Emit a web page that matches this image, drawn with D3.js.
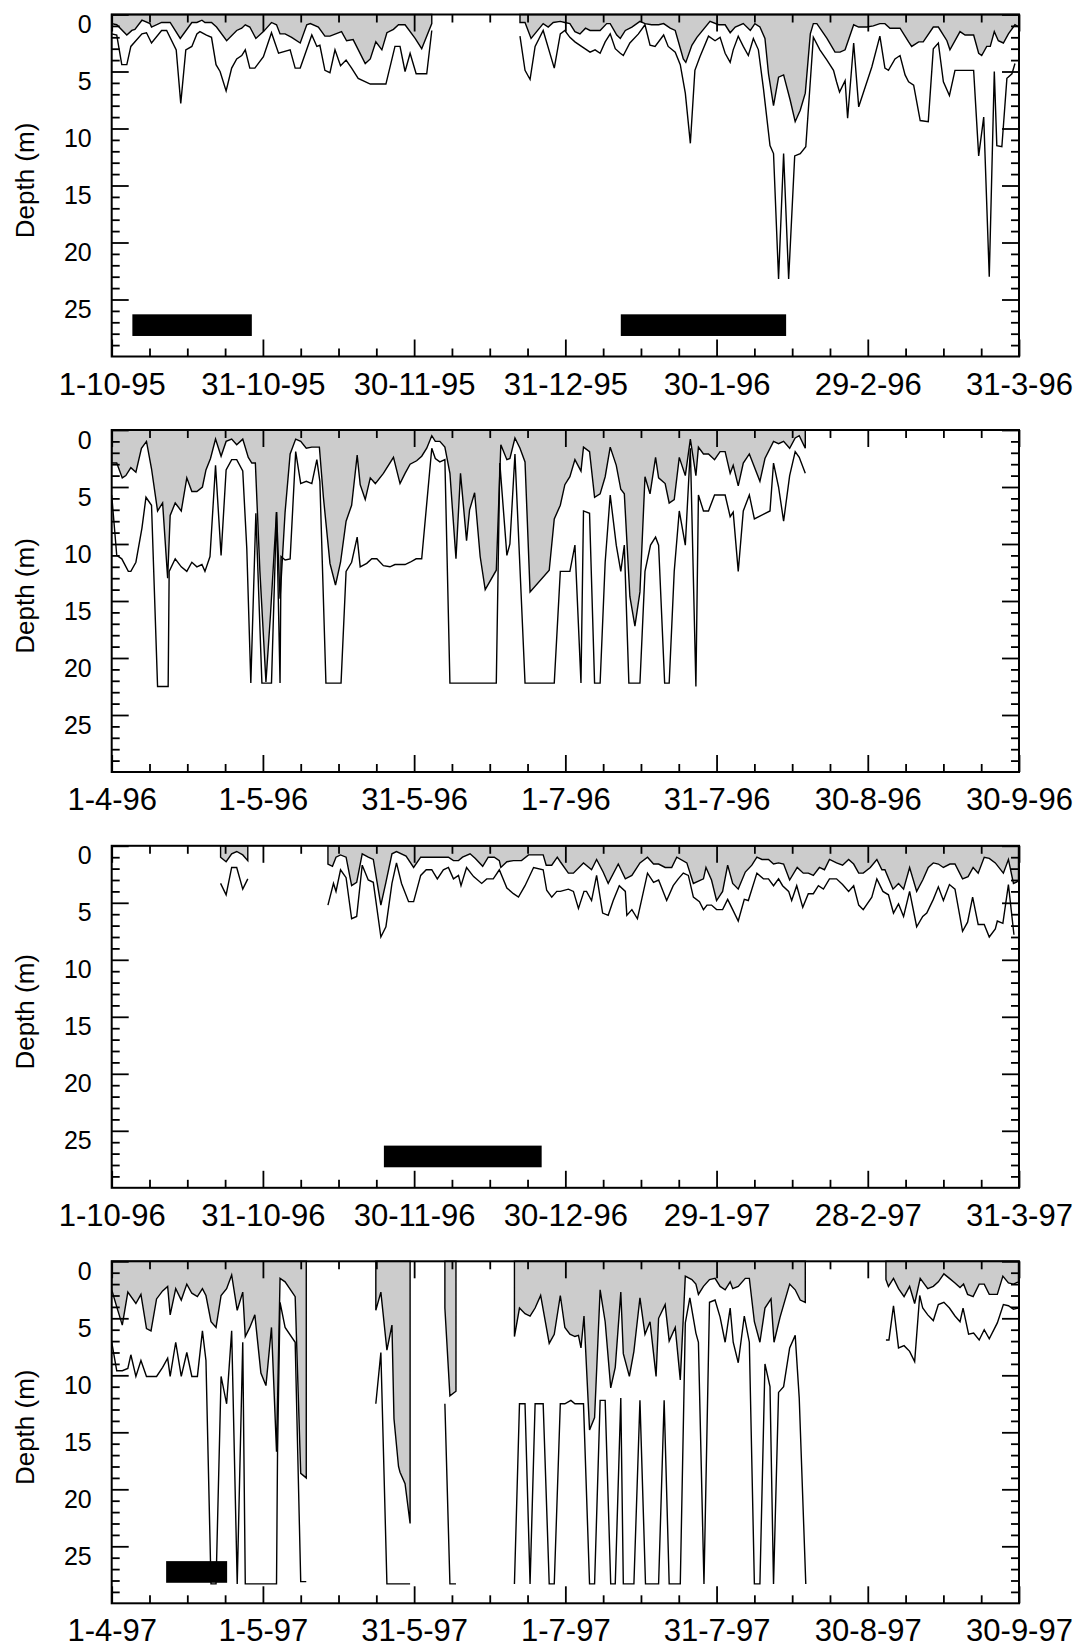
<!DOCTYPE html>
<html>
<head>
    <meta charset="utf-8">
    <title>Depth records 1995-1997</title>
    <script src="https://cdnjs.cloudflare.com/ajax/libs/d3/7.8.5/d3.min.js"></script>
    <style>
        body { margin: 0; background: #fff; }
        text { font-family: "Liberation Sans", Arial, sans-serif; fill: #000; }
    </style>
</head>
<body>
<div id="chart"></div>

<script type="text/javascript">
    // x = days from the first tick of each panel, y = depth (m); null = no data
    var xTickLabels = [
        ["1-10-95", "31-10-95", "30-11-95", "31-12-95", "30-1-96", "29-2-96", "31-3-96"],
        ["1-4-96", "1-5-96", "31-5-96", "1-7-96", "31-7-96", "30-8-96", "30-9-96"],
        ["1-10-96", "31-10-96", "30-11-96", "30-12-96", "29-1-97", "28-2-97", "31-3-97"],
        ["1-4-97", "1-5-97", "31-5-97", "1-7-97", "31-7-97", "30-8-97", "30-9-97"]
    ];
    var yTickValues = [0, 5, 10, 15, 20, 25];
    var barDepth = [26.3, 28.2];

    //black bars (start day, end day)
    var p1Bars = [[4.1, 27.8], [101.0, 133.8]];
    var p2Bars = [];
    var p3Bars = [[54.0, 85.3]];
    var p4Bars = [[10.8, 22.9]];

    //shallow series (shaded above)
    var p1Upper = [[0,0.8],[1,0.9],[3,1.8],[4,1.4],[4.6,1.3],[6,0.5],[7.6,0.8],[7.9,1.1],[9.9,0.7],[11.6,0.7],[13.6,2.1],[15.9,0.7],[16.9,0.7],[17.9,0.5],[18.5,0.7],[19.8,0.7],[20.8,1.1],[22.8,2.3],[24.8,1.4],[25.8,1.2],[26.5,0.9],[27.4,1.1],[28.6,2.1],[30.1,1.5],[31.7,0.7],[32.7,0.9],[33.4,1.7],[34.4,1.7],[35.7,2.0],[37.4,2.5],[38.7,0.9],[39.4,0.8],[41,1.1],[42.3,1.9],[43.3,1.9],[45.6,1.5],[46.6,2.3],[47.9,2.2],[50.3,4.3],[51.3,3.9],[52.4,2.4],[53.6,3.1],[54.6,1.6],[55.9,1.3],[56.9,0.9],[58.2,0.9],[60.2,2.1],[61.5,3.0],[63.5,0.8],
        null,
        [81,0.7],[82,0.7],[83.2,2.1],[85.6,0.8],[86.6,1.1],[87.6,0.7],[89,0.6],[89.9,0.7],[90.9,0.8],[91.9,1.5],[92.9,1.7],[94,1.2],[94.9,1.4],[96.9,1.4],[98.2,0.8],[98.9,0.8],[100.2,1.8],[100.9,2.1],[101.9,1.4],[103.2,1.1],[104.8,0.6],[105.8,0.8],[107.1,0.9],[108.5,0.9],[109.5,0.8],[110.8,1.2],[111.8,1.4],[113.4,3.9],[113.9,4.2],[115.1,2.7],[116.1,2.0],[118.7,0.6],[120.4,0.9],[121.7,0.9],[122.7,1.6],[123.7,1.1],[125.3,0.8],[126.7,1.4],[127.6,0.8],[128.6,1.1],[129.6,2.1],[130.3,5.2],[131.3,8.0],[132.3,5.5],[133.3,5.3],[134.6,7.5],[135.6,9.4],[136.6,8.4],[137.6,6.9],[138.6,1.7],[139.2,0.8],[139.9,0.8],[141.9,2.1],[143.5,3.3],[144.5,3.3],[145.5,3.1],[147.2,0.9],[148.2,1.1],[149.8,1.1],[151.1,1.0],[152.4,0.8],[153.4,0.8],[154.4,1.2],[156.4,1.2],[158.1,2.4],[158.7,2.8],[160.1,2.4],[161,2.4],[163,1.1],[164,1.1],[165.7,2.3],[166.3,3.1],[168.3,1.5],[169.3,1.8],[171,1.8],[172,3.4],[172.6,3.6],[173.6,2.8],[174.3,2.8],[175.1,1.5],[175.9,2.3],[176.9,2.5],[177.9,1.7],[179.2,0.9],[180,1.1]];

    var p2Upper = [[0,2.9],[1,2.9],[2.1,4.2],[2.8,4.0],[3.8,3.3],[4.8,3.7],[5.9,1.6],[6.9,1.0],[7.9,3.4],[9.1,7.1],[10.1,6.4],[11.1,13.0],[11.6,7.5],[12.6,6.4],[13.8,7.1],[14.9,4.2],[15.9,5.4],[16.9,5.4],[18,5.0],[18.7,3.5],[19.6,2.5],[20.6,0.8],[21.7,2.3],[22.7,1.0],[23.8,0.8],[24.8,1.3],[26,0.8],[27.1,2.4],[27.8,2.9],[28.5,2.9],[29.4,12.4],[30.6,22.1],[31.5,16.2],[32.7,7.2],[33.4,14.8],[34.4,7.2],[35.4,2.1],[36.5,0.8],[37.5,1.0],[38.6,1.6],[39.7,1.5],[41.2,1.5],[42,5.9],[43.3,11.7],[44.4,13.6],[45.4,11.6],[46.5,8.0],[47.6,6.6],[48.7,2.2],[49.3,4.8],[50.3,6.1],[51.3,4.2],[52.3,4.7],[53.9,3.8],[55.9,2.4],[57.2,4.7],[58.2,3.8],[59.2,3.0],[60.5,2.7],[61.5,2.3],[62.5,1.6],[63.5,0.5],[64.2,1.0],[65.1,1.0],[66.1,1.5],[67.1,3.8],[68.3,11.3],[69.2,3.8],[70.4,9.7],[71,7.0],[72,5.5],[73.1,11.1],[74.1,14.0],[76.3,12.3],[77.2,1.3],[78.4,2.6],[79,2.5],[80,0.7],[81,1.6],[82,2.8],[83,14.2],[86.8,12.3],[87.8,7.8],[89,6.6],[89.9,4.8],[90.9,4.1],[91.9,2.6],[93.1,3.6],[93.6,1.5],[94.8,1.9],[95.8,5.9],[96.9,5.6],[97.9,4.1],[98.9,1.5],[100.1,3.1],[101,5.2],[101.7,5.6],[102.8,14.6],[103.8,17.2],[104.8,14.2],[105.8,4.1],[106.8,5.6],[107.9,2.4],[108.5,4.2],[109.8,4.7],[110.6,6.4],[111.6,6.1],[112.6,2.4],[113.8,4.0],[114.8,0.8],[115.9,4.0],[116.4,1.5],[117.4,2.1],[118.4,2.1],[119.6,2.6],[120.7,1.9],[121.7,1.9],[122.7,3.8],[123.3,3.1],[124.3,4.9],[125.3,2.9],[126.5,2.1],[128.6,4.5],[129.6,2.5],[131.3,1.0],[132.3,1.2],[133.3,1.0],[134.5,1.6],[135.6,0.7],[136.4,0.5],[137.6,1.6]];

    var p3Upper = [[21.6,1.0],[22.7,1.4],[23.8,0.7],[24.8,0.5],[26,0.8],[27,1.3],
        null,
        [42.9,1.6],[43.8,1.8],[44.5,1.0],[45.4,0.8],[46.5,1.0],[47.6,3.5],[48.6,3.2],[49.7,0.7],[50.9,1.0],[51.9,1.2],[53.4,5.2],[54.4,3.2],[55.6,0.7],[56.5,0.5],[58.4,0.9],[59.9,1.9],[61.3,1.0],[66.8,1.0],[67.8,1.3],[68.8,1.3],[69.6,1.0],[71.1,0.7],[72.1,1.1],[73.6,1.8],[74.7,1.0],[75.9,1.0],[76.9,1.3],[77.2,1.9],[78.4,1.4],[79.7,1.3],[81.3,1.3],[82.7,0.8],[85.6,0.8],[86.2,1.7],[87.3,1.7],[88.4,1.0],[89,1.4],[90.6,2.4],[91.6,2.4],[93.6,1.5],[95.2,2.1],[96.2,1.2],[97.5,2.3],[98.5,3.3],[100.5,1.6],[101.9,2.9],[103.2,2.6],[104.8,1.5],[106.3,1.0],[107.5,1.6],[108.5,1.6],[109.8,1.9],[111.1,1.9],[112.1,1.0],[114.1,1.5],[115.4,3.3],[117.4,2.9],[117.9,1.9],[119,3.0],[120,4.8],[121.2,4.0],[122.2,1.7],[123.2,3.3],[124.3,3.8],[125.7,2.3],[127,1.7],[128,1.0],[129,1.2],[130.3,1.2],[131.3,1.6],[132.3,1.5],[133.3,1.6],[134.5,3.0],[136,1.9],[137.2,2.4],[138.2,2.4],[139.2,2.6],[140.4,1.9],[141.4,2.1],[142.4,1.2],[143.8,1.5],[145,1.7],[146.2,1.2],[147.2,1.6],[148.2,2.4],[149.1,2.4],[150.5,1.9],[151.8,1.2],[152.8,2.1],[153.4,2.1],[155,3.8],[156.1,3.3],[157.1,3.8],[158.3,1.9],[159.7,4.0],[160.9,3.0],[162,1.9],[163,1.5],[164,1.6],[165,1.9],[166.3,1.6],[167.3,1.6],[168.8,2.9],[169.9,2.7],[170.9,1.9],[171.9,2.4],[173.1,1.0],[174.1,1.1],[175.3,1.5],[176.9,2.4],[177.9,1.2],[178.9,3.3],[179.9,3.1]];

    var p4Upper = [[0,2.5],[1,4.0],[2.1,5.6],[3.2,2.7],[4.8,3.7],[5.8,2.9],[6.9,5.9],[7.8,6.1],[8.9,3.3],[10.1,2.6],[11.1,2.2],[11.6,4.7],[12.7,2.4],[13.8,3.4],[14.9,2.0],[15.9,2.8],[17,3.1],[18,2.4],[18.7,3.0],[19.7,5.3],[20.7,5.8],[21.7,3.0],[22.8,2.4],[23.8,1.2],[24.9,4.3],[26,2.7],[26.5,6.6],[27.4,5.8],[28.4,4.7],[29.6,9.8],[30.6,10.9],[31.7,5.8],[32.7,16.7],[33.4,1.5],[34.4,1.8],[36.4,3.1],[37.5,18.6],[38.6,19.0],
        null,
        [52.4,4.3],[53.4,2.7],[54.6,7.8],[55.6,5.6],[56,13.8],[56.9,18.0],[57.2,18.5],[58.2,19.5],[59.2,23.0],
        null,
        [66.1,4.1],[67.1,11.8],[68.3,11.4],
        null,
        [79.9,6.6],[80.9,4.1],[82,4.6],[83,4.8],[84,4.1],[85.1,3.0],[86.8,7.2],[87.8,6.4],[89,3.0],[89.9,5.8],[90.9,6.4],[91.9,6.6],[92.6,6.5],[93.1,7.6],[93.7,4.8],[94.8,14.8],[95.8,13.7],[96.9,2.5],[97.9,5.3],[99,11.1],[99.9,9.3],[101,2.7],[101.5,8.1],[102.7,10.1],[103.6,7.9],[104.8,3.2],[105.8,6.4],[106.8,5.3],[108,10.1],[108.5,5.0],[109.8,3.8],[110.6,7.0],[111.8,5.8],[112.8,10.4],[113.8,1.3],[115.1,1.6],[115.9,2.0],[116.4,2.9],[117.4,2.2],[118.6,1.6],[119.7,1.5],[120.7,2.2],[121.7,2.5],[122.7,1.8],[123.2,2.4],[124.3,2.2],[125.7,1.5],[126.5,1.5],[127.5,5.3],[128.6,7.1],[129.6,4.1],[130.8,3.3],[131.4,7.1],[132.6,4.9],[134.5,2.0],[135.6,2.5],[136.6,3.4],[137.6,3.6],
        null,
        [153.6,1.6],[154.1,2.2],[155.1,1.5],[156.1,2.4],[157.2,3.1],[158.3,2.2],[159.3,3.7],[160.4,1.5],[161.9,2.4],[163,2.2],[164,1.8],[165.1,1.1],[166.2,1.5],[167.3,1.9],[168.3,2.3],[169,2.0],[169.8,2.9],[170.9,3.1],[172.1,2.0],[173.1,2.0],[174.1,2.9],[175.7,2.9],[176.8,1.3],[177.9,1.9],[178.9,2.0],[179.9,1.8]];

    //deeper series (plain line)
    var p1Lower = [[0,1.7],[1,1.8],[2,4.4],[3,4.4],[3.8,2.8],[6,1.7],[6.9,1.6],[7.9,2.5],[9.9,1.4],[10.9,1.4],[12.8,3.1],[13.7,7.8],[14.7,3.1],[15.9,2.8],[16.9,1.7],[17.5,1.5],[18.8,1.8],[19.8,2.0],[20.7,4.4],[21.5,5.0],[22.7,6.7],[23.8,4.7],[24.8,3.9],[25.8,3.6],[26.5,3.1],[27.4,4.7],[28.4,4.7],[30.1,3.7],[31.7,1.6],[33.1,3.4],[35.4,3.1],[36.4,4.7],[37.4,4.7],[39.7,1.8],[40.7,2.8],[41.3,2.7],[42.3,4.9],[43.3,5.1],[44.3,3.1],[45.4,4.5],[46.5,4.0],[47.6,4.7],[48.9,5.6],[51.3,6.1],[54.4,6.1],[56.2,2.8],[57.2,2.8],[58.2,5.0],[59.2,3.4],[60.4,5.2],[62.5,5.2],[63.5,1.4],
        null,
        [81,1.9],[82,4.9],[83,5.7],[84,2.8],[85.6,1.4],[87.8,4.7],[89,1.7],[89.9,1.4],[90.9,2.0],[91.9,2.4],[93.2,2.8],[94.9,3.3],[95.9,3.1],[96.9,3.4],[97.9,2.4],[98.9,1.7],[99.9,3.0],[100.9,3.4],[101.5,3.6],[102.8,2.5],[104.5,1.7],[105.8,0.9],[106.8,2.7],[107.8,2.8],[109.5,1.8],[110.4,2.8],[111.8,3.3],[112.8,4.4],[113.8,6.9],[114.8,11.3],[115.7,4.9],[116.7,3.7],[118.4,1.9],[119.7,2.3],[120.7,2.0],[121.7,3.4],[122.7,4.2],[123.3,3.1],[124.3,1.9],[125.3,2.8],[126.3,3.6],[127.3,2.1],[128.3,3.1],[129.3,6.5],[130.6,11.5],[131.3,12.2],[132.3,23.2],[133.3,12.2],[134.3,23.2],[135.5,12.4],[136.6,12.2],[137.7,11.6],[139.2,2.0],[140.5,3.1],[141.9,4.0],[143.2,4.9],[143.8,5.9],[144.4,6.8],[145.5,5.8],[146,9.1],[147.2,2.5],[148.2,8.1],[150.8,4.6],[152.4,1.9],[153.4,4.7],[154.1,4.9],[155.4,3.9],[156.4,3.6],[157.4,5.3],[158.1,5.9],[159.1,6.2],[160.4,9.3],[162,9.4],[163,3.0],[164,2.5],[165,5.9],[166.2,7.1],[167.3,4.9],[171,4.9],[172,12.4],[173,9.0],[174.1,23.0],[175.1,5.0],[175.6,11.5],[176.6,11.6],[177.6,5.6],[178.6,5.2],[179.2,4.3]];

    var p2Lower = [[0,5.7],[1,11.0],[2,11.3],[3.3,12.4],[3.8,12.4],[4.8,11.6],[6,8.6],[6.8,5.9],[7.9,6.6],[9.1,22.5],[11.2,22.5],[11.4,12.4],[12.6,11.3],[13.8,12.0],[14.9,12.4],[15.9,11.6],[16.9,12.0],[17.9,11.8],[18.5,12.4],[19.5,11.1],[20.6,3.1],[21.7,11.0],[22.7,3.5],[23.8,2.6],[24.8,2.6],[26,3.6],[26.8,10.4],[27.6,22.2],[28.6,7.3],[29.8,22.2],[31.7,22.2],[32.7,7.2],[33.4,22.2],[33.6,11.1],[34.4,11.4],[35.4,11.3],[36.5,1.9],[37.5,4.7],[38.6,4.5],[39.7,4.7],[40.7,2.6],[41.3,4.5],[42.5,22.2],[45.5,22.2],[46.5,12.4],[47.6,11.6],[48.7,9.4],[49.3,12.0],[50.6,11.7],[51.6,11.3],[52.6,11.3],[53.9,11.9],[55.2,12.0],[56.2,11.8],[58.2,11.8],[59.2,11.6],[60.4,11.3],[61.5,11.3],[63.5,1.6],[64.2,2.5],[65.1,2.8],[66.1,2.6],[67.1,22.2],[76.3,22.2],[77,2.9],[78.4,11.0],[79,10.0],[80,2.1],[82,22.2],[87.8,22.2],[89,12.4],[90.9,12.4],[91.9,10.1],[93.1,22.2],[93.6,7.1],[94.8,7.3],[95.8,22.2],[96.9,22.2],[97.9,11.6],[98.9,5.7],[100.1,10.1],[101,12.4],[101.7,10.1],[102.6,22.2],[104.8,22.2],[105.8,12.4],[106.9,10.1],[107.9,9.4],[108.5,10.1],[109.7,22.2],[110.6,22.2],[111.6,12.4],[112.6,7.1],[113.8,10.1],[114.8,1.6],[115.9,22.5],[116.4,5.7],[117.4,7.1],[118.4,7.1],[119.6,5.7],[121.7,5.7],[122.7,7.6],[123.3,7.2],[124.3,12.4],[125.3,7.1],[126.5,5.7],[127.5,7.8],[130.6,7.1],[131.3,2.9],[132.3,5.0],[133.3,8.0],[134.5,4.0],[135.6,1.9],[136.4,2.4],[137.6,3.8]];

    var p3Lower = [[21.6,3.3],[22.7,4.3],[23.8,1.9],[24.8,1.9],[26,3.8],[27,2.9],
        null,
        [42.9,5.2],[44,3.3],[44.5,4.0],[45.4,2.1],[46.5,2.8],[47.6,6.4],[48.6,6.2],[49.7,1.7],[50.9,3.0],[51.9,3.2],[53.4,8.0],[54.4,7.1],[55.6,3.3],[56.5,1.5],[57.5,3.3],[58.9,4.9],[59.9,4.9],[61.3,2.6],[62.4,2.1],[63.5,2.1],[64.6,2.9],[65.8,2.1],[66.8,1.9],[67.8,2.9],[68.8,2.6],[69.3,3.5],[70.4,1.9],[71.8,2.7],[73.4,3.3],[74.4,2.9],[75.7,2.9],[76.9,2.1],[78.4,3.7],[79.7,4.2],[80.7,4.5],[82,3.5],[83.7,1.9],[85.6,2.1],[86.3,3.9],[87.3,4.5],[88.3,4.0],[89,4.0],[90.6,3.8],[91.6,4.0],[92.6,5.5],[93.7,4.0],[94.2,4.0],[95.2,4.8],[96.2,2.6],[97.4,5.9],[98.5,6.1],[99.5,4.8],[100.7,3.5],[101.9,4.0],[102.2,6.1],[103.2,5.6],[104.3,6.4],[106.3,2.4],[107.5,3.2],[108.5,3.0],[110.1,4.8],[111.4,3.5],[112.4,2.9],[113.4,2.4],[114.4,2.6],[115.4,4.5],[116.6,4.9],[117.4,5.6],[118.1,5.2],[119,5.2],[120,5.6],[121.2,5.6],[122.2,4.7],[123.2,5.6],[124.3,6.6],[125.5,4.7],[126.3,4.8],[128,2.4],[129.3,2.9],[130.3,2.9],[131.3,3.5],[132.3,2.9],[133.1,3.5],[134.3,4.0],[134.9,4.8],[135.9,3.5],[137.1,5.4],[138.2,4.2],[139.2,4.2],[140.2,3.5],[141.2,3.8],[142.4,2.9],[143.8,2.9],[145,3.4],[146.2,4.0],[147.2,3.5],[148.2,5.2],[149.1,5.6],[150.8,4.5],[151.8,2.9],[153,4.0],[154.1,4.3],[155.1,5.9],[156.1,5.1],[157.1,6.2],[158.3,4.0],[159.7,7.1],[160.9,6.2],[161.7,5.9],[163,4.7],[164,3.6],[165,4.8],[166.2,3.4],[167.3,3.8],[168.8,7.5],[169.8,6.7],[170.8,4.5],[171.9,6.9],[173.1,6.9],[174.1,8.0],[175.3,7.3],[175.7,6.6],[176.8,6.8],[177.9,3.4],[179,7.8]];

    var p4Lower = [[0,7.1],[1,9.6],[2.1,9.6],[3.2,9.4],[3.8,8.2],[4.8,10.1],[5.8,8.7],[6.9,10.1],[8.9,10.1],[10.1,9.3],[11.1,8.5],[11.6,10.1],[12.7,7.1],[13.8,10.1],[14.9,8.0],[15.9,10.1],[17,10.1],[18,6.1],[18.7,8.7],[19.7,28.3],[20.7,28.3],[21.7,10.1],[22.8,12.5],[23.8,6.1],[24.9,28.3],[26,7.1],[26.5,28.3],[32.7,28.3],[32.9,16.7],[33.4,3.6],[34.4,5.8],[36.4,7.1],[37.5,28.1],[38.6,28.1],
        null,
        [52.4,12.5],[53.4,8.0],[54.6,28.3],[59.2,28.3],
        null,
        [66.1,12.5],[67.1,28.3],[68.3,28.3],
        null,
        [79.9,28.3],[80.9,12.5],[82,12.5],[83,28.3],[84,12.5],[85.6,12.5],[86.8,28.3],[87.8,28.3],[89,12.5],[89.9,12.5],[91.1,12.2],[91.9,12.5],[93.6,12.5],[94.8,28.3],[95.8,28.3],[96.9,12.2],[97.9,12.2],[99,28.3],[99.9,28.3],[101,12.0],[101.5,28.3],[103.6,28.3],[104.8,12.2],[105.9,28.3],[108.5,28.3],[109.6,12.2],[110.6,28.3],[112.8,28.3],[113.8,5.4],[114.7,3.2],[115.9,6.3],[116.4,7.1],[117.5,28.3],[118.6,3.6],[119.7,3.4],[120.7,4.9],[121.7,7.1],[122.7,4.1],[123.3,7.1],[124.3,8.9],[125.5,4.8],[126.5,7.1],[127.5,28.3],[128.6,28.3],[129.6,9.0],[130.6,11.0],[131.3,28.3],[132.3,11.5],[133.3,11.0],[134.5,7.6],[135.6,6.5],[136.4,12.0],[137.7,28.3],
        null,
        [153.6,6.9],[154.2,6.9],[155.1,3.9],[156.1,7.6],[157.2,7.4],[158.3,7.9],[159.3,8.8],[160.3,3.0],[160.9,4.1],[161.9,4.7],[163,5.2],[164,3.8],[165.1,3.6],[166.2,4.1],[167.3,4.8],[168.3,5.3],[168.9,4.1],[170,6.4],[171,6.3],[172.1,6.9],[173.1,6.0],[174.1,6.8],[175.7,5.4],[176.9,3.8],[177.9,3.9],[178.9,4.2],[179.9,4.1]];

    var panels = [
        {upper: p1Upper, lower: p1Lower, bars: p1Bars, labels: xTickLabels[0]},
        {upper: p2Upper, lower: p2Lower, bars: p2Bars, labels: xTickLabels[1]},
        {upper: p3Upper, lower: p3Lower, bars: p3Bars, labels: xTickLabels[2]},
        {upper: p4Upper, lower: p4Lower, bars: p4Bars, labels: xTickLabels[3]}
    ];

    var width = 1078,
        height = 1647;

    var svg = d3.select("#chart").append("svg")
        .attr("width", width)
        .attr("height", height);

    var left = 111.7, right = 1019, panelH = 342;
    var tops = [14.5, 430, 845.8, 1261.3];

    var x = d3.scaleLinear().domain([0, 180]).range([left, right]);

    var xMajor = d3.range(0, 181, 30),
        xMinor = d3.range(0, 181, 7.5).filter(function(d) { return d % 30 !== 0; }),
        yMinor = d3.range(1, 30).filter(function(d) { return d % 5 !== 0; });

    function styleAxis(a) {
        a.select(".domain").remove();
        a.selectAll("line").attr("stroke", "#000").attr("stroke-width", 1.8);
        a.attr("font-family", null).attr("font-size", null);
    }

    panels.forEach(function(p, i) {
        var top = tops[i];
        var y = d3.scaleLinear().domain([0, 30]).range([top, top + panelH]);
        var g = svg.append("g");

        var area = d3.area()
            .defined(function(d) { return d !== null; })
            .x(function(d) { return x(d[0]); })
            .y0(y(0))
            .y1(function(d) { return y(d[1]); });

        var line = d3.line()
            .defined(function(d) { return d !== null; })
            .x(function(d) { return x(d[0]); })
            .y(function(d) { return y(d[1]); });

        g.append("path").datum(p.upper)
            .attr("d", area)
            .attr("fill", "#cccccc")
            .attr("stroke", "#000")
            .attr("stroke-width", 1.4);

        g.append("path").datum(p.lower)
            .attr("d", line)
            .attr("fill", "none")
            .attr("stroke", "#000")
            .attr("stroke-width", 1.4);

        g.selectAll(".bar").data(p.bars).enter().append("rect")
            .attr("x", function(d) { return x(d[0]); })
            .attr("width", function(d) { return x(d[1]) - x(d[0]); })
            .attr("y", y(barDepth[0]))
            .attr("height", y(barDepth[1]) - y(barDepth[0]))
            .attr("fill", "#000");

        //ticks, all pointing inwards
        g.append("g").attr("transform", "translate(0," + (top + panelH) + ")")
            .call(d3.axisBottom(x).tickValues(xMajor).tickSizeInner(-17).tickSizeOuter(0).tickPadding(16)
                .tickFormat(function(d, j) { return p.labels[j]; }))
            .call(styleAxis)
            .selectAll("text").attr("font-size", 31);

        g.append("g").attr("transform", "translate(0," + (top + panelH) + ")")
            .call(d3.axisBottom(x).tickValues(xMinor).tickSizeInner(-8).tickSizeOuter(0).tickFormat(""))
            .call(styleAxis);

        g.append("g").attr("transform", "translate(0," + top + ")")
            .call(d3.axisTop(x).tickValues(xMajor).tickSizeInner(-17).tickSizeOuter(0).tickFormat(""))
            .call(styleAxis);

        g.append("g").attr("transform", "translate(0," + top + ")")
            .call(d3.axisTop(x).tickValues(xMinor).tickSizeInner(-8).tickSizeOuter(0).tickFormat(""))
            .call(styleAxis);

        g.append("g").attr("transform", "translate(" + left + ",0)")
            .call(d3.axisLeft(y).tickValues(yTickValues).tickSizeInner(-17).tickSizeOuter(0).tickPadding(20))
            .call(styleAxis)
            .selectAll("text").attr("font-size", 25).attr("dy", "0.72em");

        g.append("g").attr("transform", "translate(" + left + ",0)")
            .call(d3.axisLeft(y).tickValues(yMinor).tickSizeInner(-8).tickSizeOuter(0).tickFormat(""))
            .call(styleAxis);

        g.append("g").attr("transform", "translate(" + right + ",0)")
            .call(d3.axisRight(y).tickValues(yTickValues).tickSizeInner(-17).tickSizeOuter(0).tickFormat(""))
            .call(styleAxis);

        g.append("g").attr("transform", "translate(" + right + ",0)")
            .call(d3.axisRight(y).tickValues(yMinor).tickSizeInner(-8).tickSizeOuter(0).tickFormat(""))
            .call(styleAxis);

        g.append("rect")
            .attr("x", left).attr("y", top)
            .attr("width", right - left).attr("height", panelH)
            .attr("fill", "none").attr("stroke", "#000").attr("stroke-width", 2);

        g.append("text")
            .attr("transform", "translate(25," + (top + panelH / 2 - 5) + ") rotate(-90)")
            .attr("text-anchor", "middle")
            .attr("dominant-baseline", "central")
            .attr("font-size", 26)
            .text("Depth (m)");
    });

</script>
</body>
</html>
